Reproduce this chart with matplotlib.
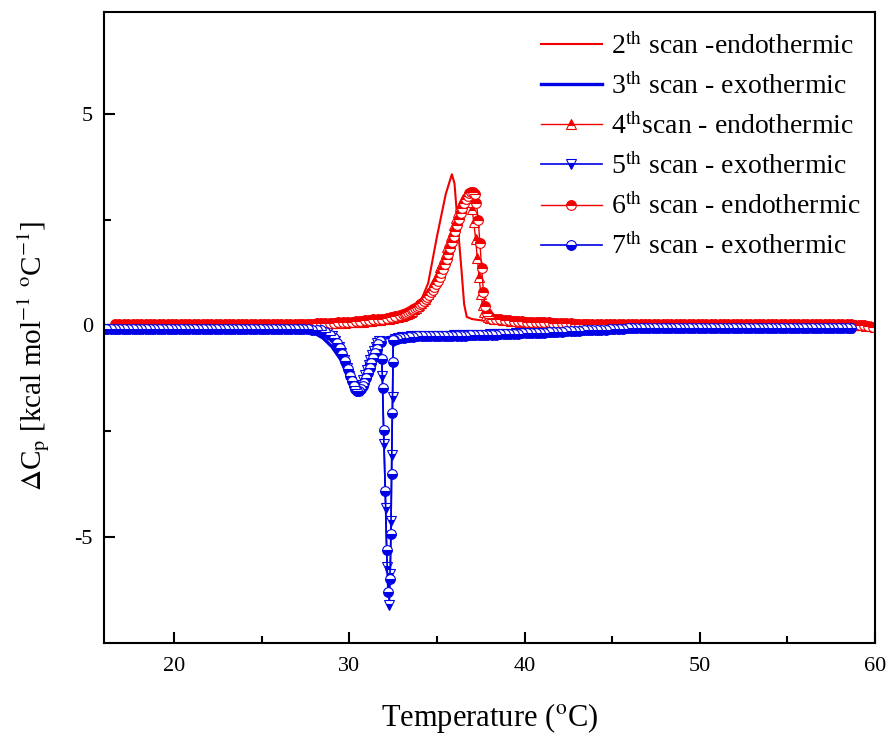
import numpy as np
import matplotlib
matplotlib.use('Agg')
import matplotlib.pyplot as plt

plt.rcParams['font.family'] = ['Liberation Serif', 'DejaVu Serif']
plt.rcParams['mathtext.fontset'] = 'stix'
plt.rcParams['axes.unicode_minus'] = False

# ---- data (T in oC, dCp in kcal/mol/oC) ----
# 2nd scan, heating (line only)
T2 = [16, 18, 20, 22, 24, 26, 28, 29, 30, 31, 32, 32.5, 33, 33.5, 34, 34.5, 35, 35.5,
      35.85, 36.0, 36.2, 36.4, 36.55, 36.7, 37.0, 37.5, 38, 39, 40, 42, 45, 50, 55, 60]
y2 = [0, 0, 0, 0, 0, 0.01, 0.02, 0.03, 0.05, 0.08, 0.12, 0.17, 0.22, 0.3, 0.5, 1.0, 2.1, 3.1,
      3.57, 3.35, 2.3, 1.3, 0.5, 0.2, 0.15, 0.12, 0.1, 0.07, 0.05, 0.02, 0.01, 0, 0, 0]

# 4th scan, heating; instrument samples every 0.25 oC on the baselines
T4 = np.r_[np.arange(16.5, 32.9, 0.25),
           [33.0, 33.1, 33.2, 33.3, 33.4, 33.5, 33.6, 33.7, 33.8, 33.9,
            34.0, 34.1, 34.2, 34.3, 34.4, 34.5, 34.6, 34.7, 34.8, 34.9,
            35.0, 35.1, 35.2, 35.3, 35.4, 35.5, 35.6, 35.7, 35.8, 35.9,
            36.0, 36.1, 36.2, 36.3, 36.4, 36.5, 36.6, 36.7, 36.8, 36.9,
            37.0, 37.1, 37.2, 37.3, 37.4, 37.5, 37.6, 37.7, 37.8, 37.9,
            38.0],
           np.arange(38.25, 60.01, 0.25)]
y4 = [0.02, 0.02, 0.02, 0.02, 0.02, 0.02, 0.02, 0.02, 0.02, 0.02,
      0.02, 0.02, 0.02, 0.02, 0.02, 0.02, 0.02, 0.02, 0.02, 0.02,
      0.02, 0.02, 0.02, 0.02, 0.02, 0.02, 0.02, 0.02, 0.02, 0.02,
      0.02, 0.02, 0.02, 0.02, 0.02, 0.02, 0.02, 0.02, 0.02, 0.02,
      0.02, 0.02, 0.02, 0.03, 0.03, 0.03, 0.03, 0.04, 0.04, 0.04,
      0.05, 0.05, 0.06, 0.06, 0.07, 0.07, 0.08, 0.09, 0.1, 0.11,
      0.12, 0.13, 0.14, 0.16, 0.18, 0.2,
      0.22, 0.24, 0.26, 0.28, 0.3, 0.32, 0.35, 0.38, 0.41, 0.45,
      0.49, 0.53, 0.58, 0.63, 0.69, 0.75, 0.82, 0.9, 0.98, 1.07,
      1.16, 1.26, 1.37, 1.48, 1.6, 1.72, 1.85, 1.98, 2.11, 2.24,
      2.38, 2.53, 2.68, 2.82, 2.92, 2.98, 3.0, 2.99, 2.97, 2.92,
      2.75, 2.45, 2.05, 1.6, 1.15, 0.75, 0.48, 0.32, 0.24, 0.2,
      0.17,
      0.15, 0.14, 0.13, 0.12, 0.11, 0.1, 0.09, 0.09, 0.08, 0.08,
      0.07, 0.07, 0.06, 0.06, 0.05, 0.05, 0.04, 0.04, 0.04, 0.03,
      0.03, 0.03, 0.02, 0.02, 0.02, 0.02, 0.02, 0.02, 0.02, 0.02,
      0.02, 0.02, 0.02, 0.02, 0.02, 0.02, 0.02, 0.02, 0.02, 0.02,
      0.02, 0.02, 0.02, 0.02, 0.02, 0.02, 0.02, 0.02, 0.02, 0.02,
      0.02, 0.02, 0.02, 0.02, 0.02, 0.02, 0.02, 0.02, 0.02, 0.02,
      0.02, 0.02, 0.02, 0.02, 0.02, 0.02, 0.02, 0.02, 0.02, 0.02,
      0.02, 0.02, 0.02, 0.02, 0.02, 0.02, 0.02, 0.02, 0.02, 0.02,
      0.02, 0.02, 0.02, 0.01, 0.0, -0.01, -0.02, -0.03]

# 6th scan, heating
T6 = np.r_[np.arange(16.625, 32.9, 0.25),
           [33.05, 33.15, 33.25, 33.35, 33.45, 33.55, 33.65, 33.75, 33.85, 33.95,
            34.05, 34.15, 34.25, 34.35, 34.45, 34.55, 34.65, 34.75, 34.85, 34.95,
            35.05, 35.15, 35.25, 35.35, 35.45, 35.55, 35.65, 35.75, 35.85, 35.95,
            36.05, 36.15, 36.25, 36.35, 36.45, 36.55, 36.65, 36.75, 36.85, 36.95,
            37.05, 37.15, 37.25, 37.35, 37.45, 37.55, 37.65, 37.75, 37.85, 37.95,
            38.05],
           np.arange(38.125, 59.9, 0.25)]
y6 = [0.03, 0.03, 0.03, 0.03, 0.03, 0.03, 0.03, 0.03, 0.03, 0.03,
      0.03, 0.03, 0.03, 0.03, 0.03, 0.03, 0.03, 0.03, 0.03, 0.03,
      0.03, 0.03, 0.03, 0.03, 0.03, 0.03, 0.03, 0.03, 0.03, 0.03,
      0.03, 0.03, 0.03, 0.03, 0.03, 0.03, 0.03, 0.03, 0.03, 0.03,
      0.03, 0.03, 0.03, 0.04, 0.04, 0.04, 0.05, 0.05, 0.05, 0.06,
      0.06, 0.07, 0.07, 0.08, 0.09, 0.1, 0.11, 0.12, 0.13, 0.14,
      0.15, 0.16, 0.18, 0.2, 0.22, 0.24,
      0.26, 0.28, 0.3, 0.32, 0.34, 0.36, 0.38, 0.41, 0.44, 0.47,
      0.5, 0.54, 0.58, 0.62, 0.67, 0.72, 0.78, 0.84, 0.91, 0.98,
      1.06, 1.14, 1.23, 1.33, 1.44, 1.56, 1.69, 1.82, 1.96, 2.1,
      2.24, 2.38, 2.52, 2.65, 2.77, 2.88, 2.98, 3.06, 3.12, 3.16,
      3.16, 3.1, 2.9, 2.5, 1.95, 1.35, 0.8, 0.45, 0.3, 0.22,
      0.18,
      0.16, 0.15, 0.14, 0.13, 0.12, 0.11, 0.1, 0.1, 0.09, 0.09,
      0.08, 0.08, 0.07, 0.07, 0.06, 0.06, 0.05, 0.05, 0.05, 0.04,
      0.04, 0.04, 0.03, 0.03, 0.03, 0.03, 0.03, 0.03, 0.03, 0.03,
      0.03, 0.03, 0.03, 0.03, 0.03, 0.03, 0.03, 0.03, 0.03, 0.03,
      0.03, 0.03, 0.03, 0.03, 0.03, 0.03, 0.03, 0.03, 0.03, 0.03,
      0.03, 0.03, 0.03, 0.03, 0.03, 0.03, 0.03, 0.03, 0.03, 0.03,
      0.03, 0.03, 0.03, 0.03, 0.03, 0.03, 0.03, 0.03, 0.03, 0.03,
      0.03, 0.03, 0.03, 0.03, 0.03, 0.03, 0.03, 0.03, 0.03, 0.03,
      0.03, 0.03, 0.03, 0.02, 0.01, 0.0, -0.02, -0.03]

# 3rd scan, cooling (line only), T decreasing
T3 = [58.8, 55, 50, 45, 42, 40, 38, 36, 34, 33, 32.5, 32, 31.6, 31.3, 31.0, 30.7, 30.4,
      30.1, 29.8, 29.5, 29.0, 28.5, 28.0, 27.5, 27, 25, 22, 20, 18, 16]
y3 = [-0.06, -0.06, -0.06, -0.08, -0.12, -0.16, -0.2, -0.22, -0.24, -0.25, -0.27, -0.3,
      -0.36, -0.55, -0.9, -1.35, -1.58, -1.45, -1.1, -0.8, -0.5, -0.3, -0.18, -0.12, -0.1,
      -0.08, -0.08, -0.08, -0.08, -0.08]

# 5th scan, cooling
T5 = np.r_[np.arange(58.75, 32.9, -0.25),
           [32.8, 32.6, 32.5, 32.47, 32.42, 32.38, 32.34, 32.28, 32.15, 32.07,
            31.98, 31.88, 31.8, 31.7, 31.6, 31.5, 31.4, 31.3, 31.2, 31.1,
            31.0, 30.9, 30.8, 30.7, 30.6, 30.5, 30.4, 30.3, 30.2, 30.1,
            30.0, 29.85, 29.7, 29.55, 29.4, 29.2, 29.0, 28.75, 28.5],
           np.arange(28.25, 15.9, -0.25)]
y5 = [-0.06, -0.06, -0.06, -0.06, -0.06, -0.06, -0.06, -0.06, -0.06, -0.06,
      -0.06, -0.06, -0.06, -0.06, -0.06, -0.06, -0.06, -0.06, -0.06, -0.06,
      -0.06, -0.06, -0.06, -0.06, -0.06, -0.06, -0.06, -0.06, -0.06, -0.06,
      -0.06, -0.06, -0.06, -0.06, -0.06, -0.06, -0.06, -0.06, -0.06, -0.06,
      -0.06, -0.06, -0.06, -0.06, -0.06, -0.06, -0.06, -0.06, -0.06, -0.06,
      -0.06, -0.06, -0.07, -0.07, -0.08, -0.08, -0.09, -0.09, -0.1, -0.1,
      -0.11, -0.11, -0.12, -0.12, -0.13, -0.13, -0.14, -0.14, -0.15, -0.15,
      -0.16, -0.16, -0.17, -0.17, -0.18, -0.18, -0.19, -0.19, -0.2, -0.2,
      -0.2, -0.21, -0.21, -0.21, -0.22, -0.22, -0.22, -0.22, -0.23, -0.23,
      -0.23, -0.23, -0.24, -0.24, -0.24, -0.24, -0.25, -0.25, -0.25, -0.25,
      -0.26, -0.26, -0.27, -0.28,
      -0.29, -0.32, -0.4, -1.7, -3.07, -4.62, -5.88, -6.6, -5.7, -4.3,
      -2.8, -1.2, -0.4, -0.38, -0.42, -0.5, -0.6, -0.7, -0.82, -0.94,
      -1.06, -1.18, -1.3, -1.4, -1.48, -1.54, -1.56, -1.52, -1.44, -1.33,
      -1.2, -1.0, -0.82, -0.65, -0.5, -0.36, -0.26, -0.18, -0.14,
      -0.12, -0.1, -0.09, -0.08, -0.08, -0.08, -0.08, -0.08, -0.08, -0.08,
      -0.08, -0.08, -0.08, -0.08, -0.08, -0.08, -0.08, -0.08, -0.08, -0.08,
      -0.08, -0.08, -0.08, -0.08, -0.08, -0.08, -0.08, -0.08, -0.08, -0.08,
      -0.08, -0.08, -0.08, -0.08, -0.08, -0.08, -0.08, -0.08, -0.08, -0.08,
      -0.08, -0.08, -0.08, -0.08, -0.08, -0.08, -0.08, -0.08, -0.08, -0.08]

# 7th scan, cooling
T7 = np.r_[np.arange(58.625, 32.8, -0.25),
           [32.7, 32.55, 32.5, 32.49, 32.45, 32.41, 32.37, 32.31, 32.2, 32.13,
            32.05, 31.95, 31.9, 31.85, 31.8, 31.75, 31.65, 31.55, 31.45, 31.35,
            31.25, 31.15, 31.05, 30.95, 30.85, 30.75, 30.65, 30.55, 30.45, 30.35,
            30.25, 30.15, 30.05, 29.9, 29.75, 29.6, 29.45, 29.3, 29.1, 28.9,
            28.6],
           np.arange(28.375, 15.9, -0.25)]
y7 = [-0.07, -0.07, -0.07, -0.07, -0.07, -0.07, -0.07, -0.07, -0.07, -0.07,
      -0.07, -0.07, -0.07, -0.07, -0.07, -0.07, -0.07, -0.07, -0.07, -0.07,
      -0.07, -0.07, -0.07, -0.07, -0.07, -0.07, -0.07, -0.07, -0.07, -0.07,
      -0.07, -0.07, -0.07, -0.07, -0.07, -0.07, -0.07, -0.07, -0.07, -0.07,
      -0.07, -0.07, -0.07, -0.07, -0.07, -0.07, -0.07, -0.07, -0.07, -0.07,
      -0.07, -0.07, -0.08, -0.08, -0.09, -0.09, -0.1, -0.1, -0.11, -0.11,
      -0.12, -0.12, -0.13, -0.13, -0.14, -0.14, -0.15, -0.15, -0.16, -0.16,
      -0.17, -0.17, -0.18, -0.18, -0.19, -0.19, -0.2, -0.2, -0.21, -0.21,
      -0.21, -0.22, -0.22, -0.22, -0.23, -0.23, -0.23, -0.23, -0.24, -0.24,
      -0.24, -0.24, -0.25, -0.25, -0.25, -0.25, -0.26, -0.26, -0.26, -0.26,
      -0.27, -0.28, -0.29, -0.3,
      -0.32, -0.34, -0.35, -0.86, -2.07, -3.5, -4.93, -6.0, -6.3, -5.3,
      -3.9, -2.48, -1.48, -0.8, -0.4, -0.38, -0.45, -0.55, -0.65, -0.76,
      -0.88, -1.0, -1.12, -1.24, -1.35, -1.44, -1.51, -1.55, -1.55, -1.5,
      -1.42, -1.32, -1.2, -1.02, -0.84, -0.68, -0.54, -0.42, -0.3, -0.22,
      -0.15,
      -0.12, -0.11, -0.1, -0.09, -0.09, -0.09, -0.09, -0.09, -0.09, -0.09,
      -0.09, -0.09, -0.09, -0.09, -0.09, -0.09, -0.09, -0.09, -0.09, -0.09,
      -0.09, -0.09, -0.09, -0.09, -0.09, -0.09, -0.09, -0.09, -0.09, -0.09,
      -0.09, -0.09, -0.09, -0.09, -0.09, -0.09, -0.09, -0.09, -0.09, -0.09,
      -0.09, -0.09, -0.09, -0.09, -0.09, -0.09, -0.09, -0.09, -0.09, -0.09]

labels = [r'2$^\mathrm{th}$ scan -endothermic',
          r'3$^\mathrm{th}$ scan - exothermic',
          r'4$^\mathrm{th}$scan - endothermic',
          r'5$^\mathrm{th}$ scan - exothermic',
          r'6$^\mathrm{th}$ scan - endothermic',
          r'7$^\mathrm{th}$ scan - exothermic']

red = '#f00000'
blue = '#0000e6'

fig = plt.figure(figsize=(8.9, 7.38), dpi=100)
ax = fig.add_axes([0.1169, 0.1287, 0.8663, 0.855])

ax.plot(T2, y2, '-', color=red, lw=1.5, label=labels[0])
ax.plot(T3, y3, '-', color=blue, lw=2.4, label=labels[1])
ax.plot(T4, y4, '-', color=red, lw=1.0, marker='^', ms=7, fillstyle='top',
        mfc=red, mfcalt='white', mec=red, mew=0.8, label=labels[2])
ax.plot(T5, y5, '-', color=blue, lw=1.2, marker='v', ms=7, fillstyle='bottom',
        mfc=blue, mfcalt='white', mec=blue, mew=0.8, label=labels[3])
ax.plot(T6, y6, '-', color=red, lw=1.0, marker='o', ms=7, fillstyle='top',
        mfc=red, mfcalt='white', mec=red, mew=0.8, label=labels[4])
ax.plot(T7, y7, '-', color=blue, lw=1.2, marker='o', ms=7, fillstyle='bottom',
        mfc=blue, mfcalt='white', mec=blue, mew=0.8, label=labels[5])

ax.set_xlim(16, 60)
ax.set_ylim(-7.5, 7.4)
ax.set_xticks([20, 30, 40, 50, 60])
ax.set_xticks([25, 35, 45, 55], minor=True)
ax.set_yticks([-5, 0, 5])
ax.set_yticks([-2.5, 2.5], minor=True)
ax.tick_params(which='both', direction='in', top=False, right=False, width=1.5,
               labelsize=16)
ax.tick_params(axis='x', pad=10)
ax.tick_params(axis='y', pad=8)
ax.tick_params(which='major', length=8)
ax.tick_params(which='minor', length=5)
for s in ax.spines.values():
    s.set_linewidth(1.5)

ax.set_xlabel(r'Temperature ($^\mathrm{o}$C)', fontsize=22, labelpad=18)
ax.set_ylabel(r'$\Delta$C$_\mathrm{p}$ [kcal mol$^{-1}$ $^\mathrm{o}$C$^{-1}$]',
              fontsize=21)
ax.yaxis.set_label_coords(-0.067, 0.455)

ax.legend(loc='upper right', frameon=False, fontsize=20, handlelength=2.2,
          handletextpad=0.35, labelspacing=0.45, borderaxespad=0.1,
          bbox_to_anchor=(1.0, 0.99))

fig.savefig('out.png', dpi=100)
